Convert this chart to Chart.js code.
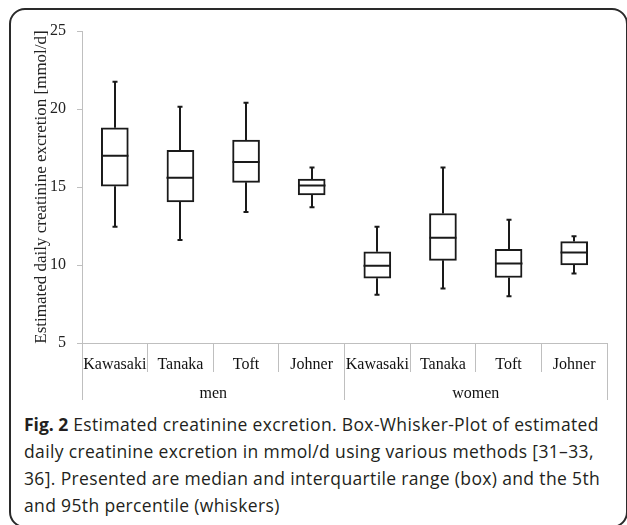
<!DOCTYPE html>
<html>
<head>
<meta charset="utf-8">
<script src="https://cdn.jsdelivr.net/npm/chart.js@4.4.1/dist/chart.umd.min.js"></script>
<style>
  html, body { margin: 0; padding: 0; background: #fff; width: 627px; height: 525px; overflow: hidden; }
  #frame { position: absolute; left: 9px; top: 8px; width: 619px; height: 520px; border: 2px solid #2a2a2a; border-radius: 16px; box-sizing: border-box; }
  #wrap { position: absolute; left: 0; top: 0; width: 627px; height: 405px; }
  #caption { position: absolute; left: 24px; top: 411px; width: 602px; font-family: "Open Sans", sans-serif; font-size: 17.5px; letter-spacing: 0.35px; line-height: 27px; color: #231f20; white-space: nowrap; }
  #caption b { font-weight: 700; letter-spacing: 0; }
</style>
</head>
<body>
<div id="frame"></div>
<div id="wrap"><canvas id="c" width="627" height="405"></canvas></div>
<div id="caption"><b>Fig. 2</b> Estimated creatinine excretion. Box-Whisker-Plot of estimated<br>daily creatinine excretion in mmol/d using various methods [31–33,<br>36]. Presented are median and interquartile range (box) and the 5th<br>and 95th percentile (whiskers)</div>
<script>
const categories = ['Kawasaki', 'Tanaka', 'Toft', 'Johner', 'Kawasaki', 'Tanaka', 'Toft', 'Johner'];
const groups = ['men', 'women'];
const p5     = [12.45, 11.6, 13.4, 13.7, 8.1, 8.5, 8.0, 9.45];
const q1     = [15.05, 14.05, 15.3, 14.5, 9.15, 10.3, 9.2, 10.0];
const median = [17.0, 15.6, 16.6, 15.1, 9.95, 11.75, 10.1, 10.8];
const q3     = [18.8, 17.35, 18.0, 15.5, 10.85, 13.3, 11.0, 11.5];
const p95    = [21.75, 20.15, 20.4, 16.25, 12.45, 16.25, 12.9, 11.85];
const yTicks = [5, 10, 15, 20, 25];

const serif = "'Liberation Serif', 'Times New Roman', serif";
const axisGray = '#bfbfbf';
const ink = '#1a1a1a';

const whiskerPlugin = {
  id: 'whiskers',
  afterDatasetsDraw(chart) {
    const ctx = chart.ctx;
    const xs = chart.scales.x, ys = chart.scales.y;
    const meta = chart.getDatasetMeta(0);
    ctx.save();
    ctx.strokeStyle = ink;
    ctx.lineWidth = 2;
    ctx.lineCap = 'butt';
    categories.forEach((c, i) => {
      const x = Math.round(xs.getPixelForValue(i));
      const bw = meta.data[i].width;
      const yMed = ys.getPixelForValue(median[i]);
      const yQ1 = ys.getPixelForValue(q1[i]);
      const yQ3 = ys.getPixelForValue(q3[i]);
      const yLo = ys.getPixelForValue(p5[i]);
      const yHi = ys.getPixelForValue(p95[i]);
      ctx.beginPath();
      ctx.moveTo(x - bw / 2, yMed); ctx.lineTo(x + bw / 2, yMed);
      ctx.moveTo(x, yQ3); ctx.lineTo(x, yHi);
      ctx.moveTo(x, yQ1); ctx.lineTo(x, yLo);
      ctx.moveTo(x - 2.5, yHi); ctx.lineTo(x + 2.5, yHi);
      ctx.moveTo(x - 2.5, yLo); ctx.lineTo(x + 2.5, yLo);
      ctx.stroke();
    });
    ctx.restore();
  }
};

new Chart(document.getElementById('c'), {
  type: 'bar',
  data: {
    labels: categories,
    datasets: [{
      data: q1.map((v, i) => [v, q3[i]]),
      backgroundColor: '#ffffff',
      borderColor: ink,
      borderWidth: 2,
      borderSkipped: false,
      barThickness: 27
    }]
  },
  options: {
    responsive: false,
    animation: false,
    devicePixelRatio: 1,
    layout: { padding: { left: 0, right: 20, top: 31, bottom: 5 } },
    plugins: { legend: { display: false }, tooltip: { enabled: false }, title: { display: false } },
    scales: {
      y: {
        min: 5, max: 25,
        afterFit(s) { s.width = 82; },
        afterBuildTicks(s) { s.ticks = yTicks.map(v => ({ value: v })); },
        grid: { display: true, drawOnChartArea: false, drawTicks: true, tickLength: 5, color: axisGray },
        border: { display: true, color: axisGray, width: 1 },
        ticks: { font: { family: serif, size: 16 }, color: '#222', padding: 11 },
        title: {
          display: true,
          text: 'Estimated daily creatinine excretion [mmol/d]',
          font: { family: serif, size: 17 },
          color: '#222',
          padding: { top: 31, bottom: 0 }
        }
      },
      x: {
        type: 'category',
        weight: 0,
        offset: true,
        afterFit(s) { s.height = 29; },
        grid: { display: true, offset: true, drawOnChartArea: false, drawTicks: true, tickLength: 29, color: axisGray },
        border: { display: true, color: axisGray, width: 1 },
        ticks: { font: { family: serif, size: 16 }, color: '#111', padding: -17, maxRotation: 0, autoSkip: false }
      },
      x2: {
        type: 'category',
        position: 'bottom',
        weight: 1,
        labels: groups,
        offset: true,
        afterFit(s) { s.height = 28; },
        grid: { display: true, offset: true, drawOnChartArea: false, drawTicks: true, tickLength: 28, color: axisGray },
        border: { display: false },
        ticks: { font: { family: serif, size: 16 }, color: '#111', padding: -16, maxRotation: 0, autoSkip: false }
      }
    }
  },
  plugins: [whiskerPlugin]
});
</script>
</body>
</html>
